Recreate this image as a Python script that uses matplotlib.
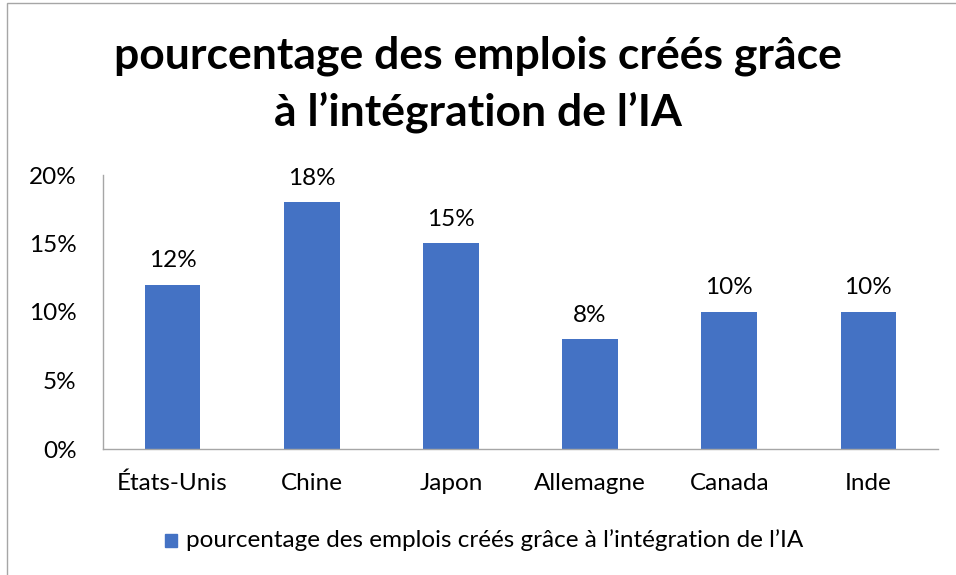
import matplotlib
matplotlib.use("Agg")
import matplotlib.pyplot as plt
from matplotlib.patches import Rectangle

plt.rcParams['font.family'] = ['Lato', 'DejaVu Sans']

# data
pays = ["États-Unis", "Chine", "Japon", "Allemagne", "Canada", "Inde"]
valeurs = [12, 18, 15, 8, 10, 10]
yticks = [0, 5, 10, 15, 20]
serie = "pourcentage des emplois créés grâce à l’intégration de l’IA"
titre = "pourcentage des emplois créés grâce\nà l’intégration de l’IA"

bleu = "#4472C4"
fs = 17.5

fig = plt.figure(figsize=(9.56, 5.75), dpi=100)
ax = fig.add_axes([103 / 956, 1 - 449 / 575, (938 - 103) / 956, (449 - 175) / 575])

x = range(len(pays))
bars = ax.bar(x, valeurs, width=0.4, color=bleu, zorder=2)
for b, v in zip(bars, valeurs):
    ax.text(b.get_x() + b.get_width() / 2, v + 1.0, f"{v}%", ha="center", va="bottom",
            fontsize=fs, color="#000000")

ax.set_xlim(-0.5, len(pays) - 0.5)
ax.set_ylim(0, 20)
ax.set_yticks(yticks)
ax.set_yticklabels([f"{t}%" for t in yticks], fontsize=fs)
ax.set_xticks(list(x))
ax.set_xticklabels(pays, fontsize=fs)
ax.tick_params(axis="x", length=0, pad=17)
ax.tick_params(axis="y", length=0, pad=19)
for s in ["top", "right"]:
    ax.spines[s].set_visible(False)
for s in ["left", "bottom"]:
    ax.spines[s].set_color("#A6A6A6")
    ax.spines[s].set_linewidth(1)

fig.text(0.5, 1 - 84 / 575, titre, ha="center", va="center", fontsize=32,
         fontweight="bold", linespacing=1.45)

# legend
fig.patches.append(Rectangle((165 / 956, 1 - 547 / 575), 12 / 956, 13 / 575,
                             transform=fig.transFigure, color=bleu))
fig.text(186 / 956, 1 - 540 / 575, serie, ha="left", va="center", fontsize=fs)

# border
fig.patches.append(Rectangle((7 / 956, -0.01), 1.0, 1 - 3 / 575 + 0.01,
                             transform=fig.transFigure, fill=False,
                             edgecolor="#A6A6A6", linewidth=1))

fig.savefig("out.png", dpi=100)
